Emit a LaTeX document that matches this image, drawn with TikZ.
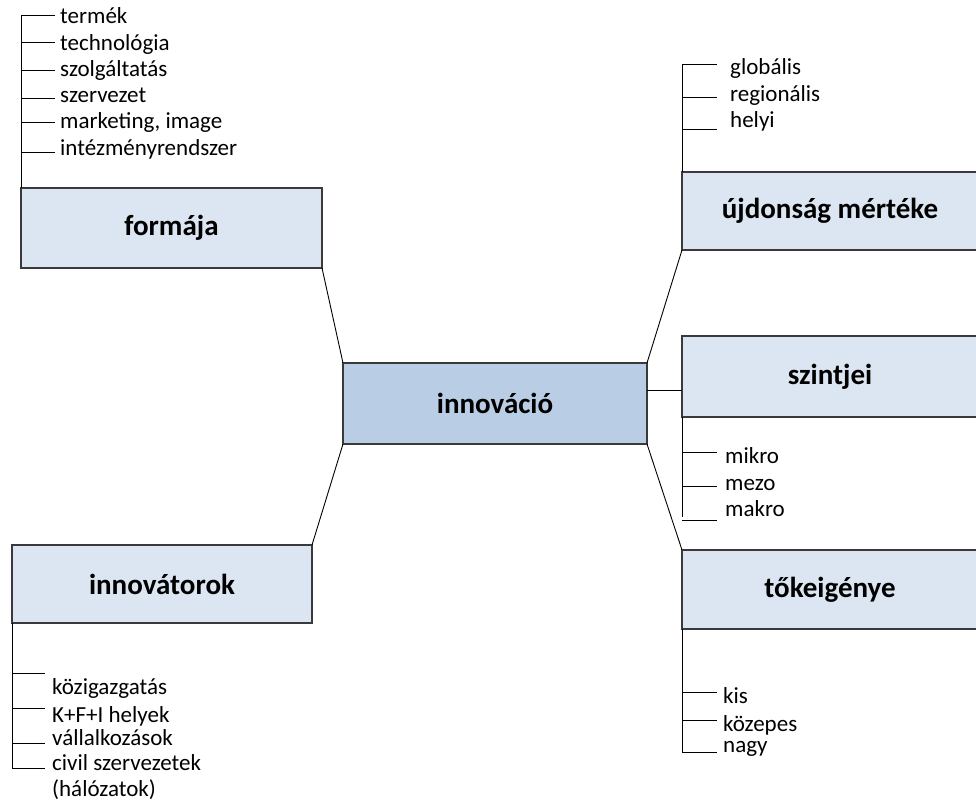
\documentclass[tikz,border=0pt]{standalone}
\usepackage{fontspec}
\setmainfont{Carlito}
\definecolor{boxfill}{HTML}{DCE6F2}
\definecolor{cenfill}{HTML}{B9CDE5}
\definecolor{boxline}{HTML}{3A3A3A}
\begin{document}
\begin{tikzpicture}[x=1pt,y=-1pt,
  box/.style={draw=boxline, line width=1.1pt, fill=boxfill, inner sep=0pt, outer sep=0pt,
    anchor=north west, font=\fontsize{29}{34}\selectfont\bfseries},
  item/.style={anchor=base west, inner sep=0pt, font=\fontsize{23}{28}\selectfont},
  con/.style={draw=black, line width=0.9pt}]
\useasboundingbox (0,0) rectangle (976,805);

% boxes
\node[box, fill=cenfill, minimum width=304pt, minimum height=81pt] (center) at (343,363) {innováció};
\node[box, minimum width=301pt, minimum height=80pt] (formaja) at (21,188) {formája};
\node[box, minimum width=296pt, minimum height=78pt] (ujdonsag) at (682,172) {újdonság mértéke};
\node[box, minimum width=296pt, minimum height=81pt] (szintjei) at (682,336) {szintjei};
\node[box, minimum width=296pt, minimum height=79pt] (toke) at (682,550) {tőkeigénye};
\node[box, minimum width=300pt, minimum height=78pt] (innovatorok) at (12,545) {innovátorok};

% connectors to centre
\draw[con] (formaja.south east) -- (center.north west);
\draw[con] (center.north east) -- (ujdonsag.south west);
\draw[con] (center.north east) ++(0,27) coordinate (c1) -- (c1 -| szintjei.west);
\draw[con] (center.south east) -- (toke.north west);
\draw[con] (center.south west) -- (innovatorok.north east);

% formája tree
\coordinate (f0) at (21,15);
\draw[con] (formaja.north west) -- (f0);
\foreach \y in {15,42,70,98,122,152} \draw[con] (21,\y) -- (55,\y);
\node[item] (f1) at (60,24) {termék};
\node[item] (f2) at (60,51) {technológia};
\node[item] (f3) at (60,77) {szolgáltatás};
\node[item] (f4) at (60,103) {szervezet};
\node[item] (f5) at (60,129) {marketing, image};
\node[item] (f6) at (60,156) {intézményrendszer};

% újdonság tree
\coordinate (u0) at (682,64);
\draw[con] (ujdonsag.north west) -- (u0);
\foreach \y in {64,97,129} \draw[con] (682,\y) -- (717,\y);
\node[item] (u1) at (730,75) {globális};
\node[item] (u2) at (730,102) {regionális};
\node[item] (u3) at (730,128) {helyi};

% szintjei tree
\coordinate (s0) at (682,517);
\draw[con] (szintjei.south west) -- (s0);
\foreach \y in {452,486,520} \draw[con] (682,\y) -- (717,\y);
\node[item] (s1) at (725,463) {mikro};
\node[item] (s2) at (725,490) {mezo};
\node[item] (s3) at (725,516) {makro};

% tőkeigénye tree
\coordinate (t0) at (682,753);
\draw[con] (toke.south west) -- (t0);
\foreach \y in {692,720,752} \draw[con] (682,\y) -- (717,\y);
\node[item] (t1) at (723,703) {kis};
\node[item] (t2) at (723,731) {közepes};
\node[item] (t3) at (723,752) {nagy};

% innovátorok tree
\coordinate (i0) at (12,768);
\draw[con] (innovatorok.south west) -- (i0);
\foreach \y in {673,708,743,768} \draw[con] (12,\y) -- (45,\y);
\node[item] (i1) at (52,694) {közigazgatás};
\node[item] (i2) at (52,722) {K+F+I helyek};
\node[item] (i3) at (52,745) {vállalkozások};
\node[item] (i4) at (52,770) {civil szervezetek};
\node[item] (i5) at (52,796) {(hálózatok)};
\end{tikzpicture}
\end{document}
